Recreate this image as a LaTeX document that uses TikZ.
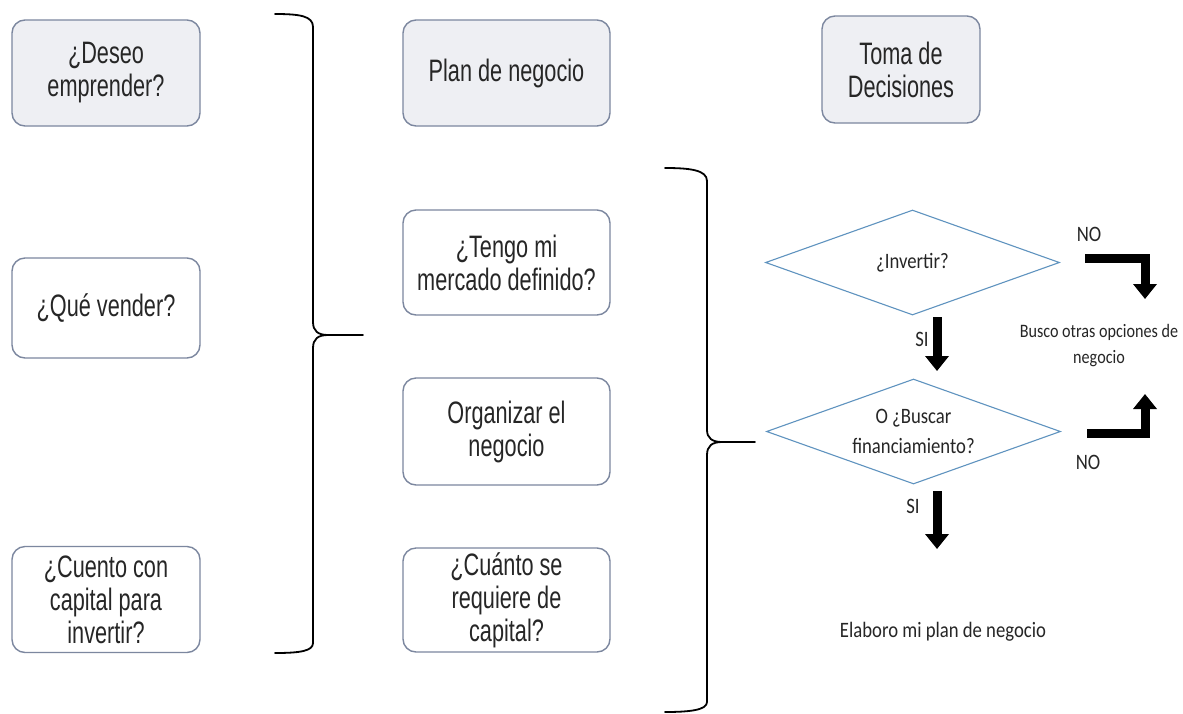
\documentclass[tikz,border=0pt]{standalone}
\usepackage{fontspec}
\usetikzlibrary{shapes.geometric,arrows.meta}
\newfontfamily\boxfont[FakeStretch=0.7]{Liberation Sans}
\newfontfamily\calfont[FakeStretch=0.85]{Carlito}
\definecolor{boxline}{HTML}{7C879F}
\definecolor{boxfill}{HTML}{EEEFF3}
\definecolor{dialine}{HTML}{5F93BF}
\definecolor{txt}{HTML}{262626}
\tikzset{
  qbox/.style={draw=boxline, line width=1.4pt, rounded corners=13pt, fill=white,
    minimum width=188pt, minimum height=106pt, align=center, text=txt,
    font=\boxfont\fontsize{31}{33}\selectfont, inner sep=2pt},
  mbox/.style={qbox, minimum width=207pt},
  graybox/.style={fill=boxfill},
  dia/.style={draw=dialine, line width=1.1pt, shape=diamond, aspect=2.8, fill=white,
    minimum width=294pt, minimum height=105pt, inner sep=0pt, align=center, text=txt,
    font=\calfont\fontsize{22}{30}\selectfont},
  lbl/.style={text=txt, font=\calfont\fontsize{22}{26}\selectfont, inner sep=0pt, align=center},
  brace/.style={draw=black, line width=1.8pt, line cap=round},
  fat/.style={draw=black, line width=9pt, line join=miter, -{Triangle[width=23pt,length=15pt]}}
}
\begin{document}
\begin{tikzpicture}[x=1pt,y=-1pt]
\useasboundingbox[fill=white] (0,0) rectangle (1183,713);
% left column
\node[qbox,graybox] (q1) at (106,73) {¿Deseo\\emprender?};
\node[qbox, minimum height=100pt] (q2) at (106,308) {¿Qué vender?};
\node[qbox] (q3) at (106,599.5) {¿Cuento con\\capital para\\invertir?};
% middle column
\node[mbox,graybox] (m1) at (506.5,73) {Plan de negocio};
\node[mbox, minimum height=105pt] (m2) at (506.5,262.5) {¿Tengo mi\\mercado definido?};
\node[mbox, minimum height=107pt] (m3) at (506.5,431.5) {Organizar el\\negocio};
\node[mbox, minimum height=104pt] (m4) at (506.5,600) {¿Cuánto se\\requiere de\\capital?};
% right title
\node[qbox,graybox, minimum width=158pt, minimum height=107pt] (t1) at (901,69.5) {Toma de\\Decisiones};
% brace 1
\draw[brace] (275,14) .. controls (300,14) and (313,16) .. (313,27) -- (313,322)
  .. controls (313,331) and (318,335) .. (328,335) -- (363,335);
\draw[brace] (313,348) .. controls (313,339) and (318,335) .. (328,335);
\draw[brace] (313,348) -- (313,643) .. controls (313,651) and (300,653) .. (275,653);
% brace 2
\draw[brace] (665,168) .. controls (690,168) and (707,170) .. (707,181) -- (707,430)
  .. controls (707,438) and (712,442) .. (722,442) -- (755,442);
\draw[brace] (707,455) .. controls (707,446) and (712,442) .. (722,442);
\draw[brace] (707,455) -- (707,702) .. controls (707,710) and (690,712) .. (665,712);
% diamonds
\node[dia] (inv) at (912.5,262.5) {¿Invertir?};
\node[dia] (fin) at (913.5,431.5) {O ¿Buscar\\financiamiento?};
% arrows
\coordinate (a1s) at (937,317);
\coordinate (a1e) at (937,371);
\coordinate (a2s) at (937,491);
\coordinate (a2e) at (937,549);
\coordinate (b1s) at (1085,258);
\coordinate (b1c) at (1145,258);
\coordinate (b1e) at (1145,299);
\coordinate (b2s) at (1087,433);
\coordinate (b2c) at (1145,433);
\coordinate (b2e) at (1145,394);
\draw[fat] (a1s) -- (a1e);
\draw[fat] (a2s) -- (a2e);
\draw[fat] (b1s) -- (b1c) -- (b1e);
\draw[fat] (b2s) -- (b2c) -- (b2e);
% labels
\node[lbl] (no1) at (1089,234) {NO};
\node[lbl] (si1) at (922,339) {SI};
\node[lbl] (si2) at (913,506) {SI};
\node[lbl] (no2) at (1088,462) {NO};
\node[lbl, font=\calfont\fontsize{19}{26}\selectfont] (busco) at (1099,346) {Busco otras opciones de\\negocio};
\node[lbl] (elab) at (943,632) {Elaboro mi plan de negocio};
\end{tikzpicture}
\end{document}
